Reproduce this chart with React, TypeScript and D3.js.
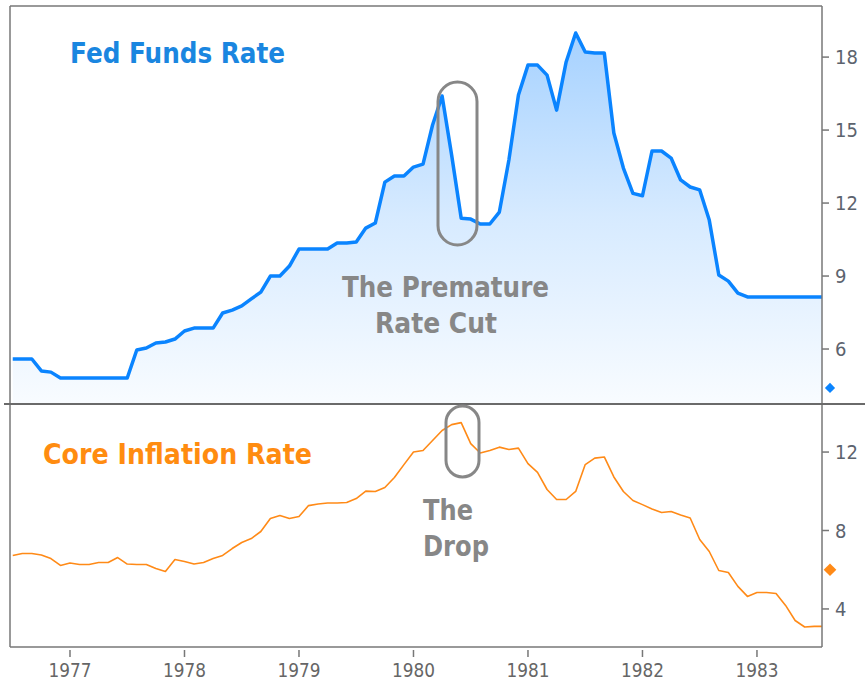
import React from "react";
import * as d3 from "d3";

// ---- data (monthly, starting July 1976) ----
const START_YEAR = 1976;
const START_MONTH = 7; // July

const fedFunds: number[] = [
  5.59, 5.59, 5.59, 5.10, 5.05, 4.81, // 1976 Jul-Dec
  4.81, 4.81, 4.81, 4.81, 4.81, 4.81, 4.81, 5.96, 6.04, 6.25, 6.29, 6.41, // 1977
  6.74, 6.86, 6.86, 6.86, 7.48, 7.60, 7.77, 8.06, 8.34, 9.00, 9.00, 9.41, // 1978
  10.11, 10.11, 10.11, 10.11, 10.36, 10.36, 10.40, 10.97, 11.18, 12.86, 13.11, 13.11, // 1979
  13.48, 13.60, 15.21, 16.40, 13.97, 11.38, 11.34, 11.14, 11.14, 11.63, 13.77, 16.44, // 1980
  17.67, 17.67, 17.26, 15.82, 17.80, 18.99, 18.21, 18.17, 18.17, 14.88, 13.44, 12.40, // 1981
  12.30, 14.14, 14.14, 13.85, 12.95, 12.66, 12.54, 11.30, 9.04, 8.79, 8.30, 8.14, // 1982
  8.14, 8.14, 8.14, 8.14, 8.14, 8.14, 8.14, 8.14, // 1983 Jan-Aug
];

const coreInflation: number[] = [
  6.73, 6.83, 6.83, 6.75, 6.57, 6.22, // 1976 Jul-Dec
  6.34, 6.27, 6.27, 6.37, 6.37, 6.62, 6.29, 6.27, 6.27, 6.06, 5.91, 6.52, // 1977
  6.42, 6.29, 6.37, 6.57, 6.73, 7.08, 7.39, 7.59, 7.95, 8.61, 8.76, 8.61, // 1978
  8.71, 9.27, 9.35, 9.40, 9.40, 9.43, 9.63, 10.01, 9.99, 10.19, 10.70, 11.36, // 1979
  12.00, 12.08, 12.59, 13.10, 13.40, 13.50, 12.43, 11.95, 12.08, 12.25, 12.13, 12.20, // 1980
  11.41, 10.96, 10.09, 9.58, 9.58, 9.99, 11.36, 11.69, 11.75, 10.73, 9.99, 9.53, // 1981
  9.32, 9.10, 8.92, 8.97, 8.79, 8.64, 7.54, 6.93, 5.96, 5.86, 5.15, 4.64, // 1982
  4.84, 4.84, 4.79, 4.18, 3.41, 3.08, 3.11, 3.11, // 1983 Jan-Aug
];

const yearTicks: number[] = [1977, 1978, 1979, 1980, 1981, 1982, 1983];
const fedTicks: number[] = [6, 9, 12, 15, 18];
const inflTicks: number[] = [4, 8, 12];

const fedTitle = "Fed Funds Rate";
const inflTitle = "Core Inflation Rate";
const fedNote = ["The Premature", "Rate Cut"];
const inflNote = ["The", "Drop"];
const fedMarker = 4.4;
const inflMarker = 6.0;

const BLUE = "#0a84ff";
const BLUE_TEXT = "#1a86e0";
const ORANGE = "#ff8a17";
const ORANGE_TEXT = "#ff8c10";
const GRAY = "#878787";
const FRAME = "#777";
const TICK_TEXT = "#5c636e";

const COND = "'DejaVu Sans Condensed', 'DejaVu Sans', sans-serif";
const BOLD = "'DejaVu Sans', Verdana, sans-serif";

export default function App() {
  const W = 865;
  const H = 685;
  const left = 10;
  const right = 822;
  const top1 = 6;
  const bot1 = 404;
  const bot2 = 647;

  const toYear = (i: number) => START_YEAR + (START_MONTH - 1 + i) / 12;

  const x = d3.scaleLinear().domain([1976.476, 1983.568]).range([left, right]);
  const yTop = d3.scaleLinear().domain([3.74, 20.1]).range([bot1, top1]);
  const yBot = d3.scaleLinear().domain([2.06, 14.45]).range([bot2, bot1]);

  const fedPts = fedFunds.map((v, i) => [toYear(i), v] as [number, number]);
  const inflPts = coreInflation.map((v, i) => [toYear(i), v] as [number, number]);

  const fedLine = d3.line<[number, number]>().x((d) => x(d[0])).y((d) => yTop(d[1]));
  const fedArea = d3
    .area<[number, number]>()
    .x((d) => x(d[0]))
    .y0(bot1)
    .y1((d) => yTop(d[1]));
  const inflLine = d3.line<[number, number]>().x((d) => x(d[0])).y((d) => yBot(d[1]));

  const diamondBlue = d3.symbol(d3.symbolSquare, 52)() as string;
  const diamondOrange = d3.symbol(d3.symbolSquare, 80)() as string;

  return (
    <svg
      width={W}
      height={H}
      style={{ position: "absolute", left: 0, top: 0, background: "#fff" }}
    >
      <defs>
        <clipPath id="clipTop">
          <rect x={left} y={top1} width={right - left} height={bot1 - top1} />
        </clipPath>
        <clipPath id="clipBot">
          <rect x={left} y={bot1} width={right - left} height={bot2 - bot1} />
        </clipPath>
        <linearGradient id="fedGrad" gradientUnits="userSpaceOnUse" x1="0" y1="30" x2="0" y2={bot1}>
          <stop offset="0" stopColor="#1e8cff" stopOpacity={0.4} />
          <stop offset="0.5" stopColor="#1e8cff" stopOpacity={0.18} />
          <stop offset="1" stopColor="#1e8cff" stopOpacity={0.03} />
        </linearGradient>
      </defs>

      {/* top panel series */}
      <g clipPath="url(#clipTop)">
        <path d={fedArea(fedPts) as string} fill="url(#fedGrad)" />
        <path
          d={fedLine(fedPts) as string}
          fill="none"
          stroke={BLUE}
          strokeWidth={3.5}
          strokeLinejoin="round"
        />
      </g>

      {/* bottom panel series */}
      <g clipPath="url(#clipBot)">
        <path
          d={inflLine(inflPts) as string}
          fill="none"
          stroke={ORANGE}
          strokeWidth={1.6}
          strokeLinejoin="round"
        />
      </g>

      {/* frame */}
      <line x1={left} x2={right} y1={top1} y2={top1} stroke={FRAME} strokeWidth={1.5} />
      <line x1={left} x2={left} y1={top1} y2={bot2} stroke={FRAME} strokeWidth={1.5} />
      <line x1={left} x2={right} y1={bot2} y2={bot2} stroke={FRAME} strokeWidth={1.5} />
      <line x1={right} x2={right} y1={top1} y2={bot2} stroke={FRAME} strokeWidth={1.5} />
      <line x1={4} x2={W} y1={bot1} y2={bot1} stroke="#6a6a6a" strokeWidth={2} />

      {/* right axis top */}
      {fedTicks.map((t) => (
        <g key={"f" + t} transform={`translate(${right},${yTop(t)})`}>
          <line x1={0} x2={7} stroke={FRAME} strokeWidth={1.5} />
          <text
            x={13}
            dy="0.35em"
            fontSize={20}
            fontFamily={COND}
            style={{ fontStretch: "condensed" }}
            fill={TICK_TEXT}
          >
            {t}
          </text>
        </g>
      ))}

      {/* right axis bottom */}
      {inflTicks.map((t) => (
        <g key={"i" + t} transform={`translate(${right},${yBot(t)})`}>
          <line x1={0} x2={7} stroke={FRAME} strokeWidth={1.5} />
          <text
            x={13}
            dy="0.35em"
            fontSize={20}
            fontFamily={COND}
            style={{ fontStretch: "condensed" }}
            fill={TICK_TEXT}
          >
            {t}
          </text>
        </g>
      ))}

      {/* markers */}
      <path d={diamondBlue} transform={`translate(830,${yTop(fedMarker)}) rotate(45)`} fill={BLUE} />
      <path d={diamondOrange} transform={`translate(830,${yBot(inflMarker)}) rotate(45)`} fill={ORANGE} />

      {/* x axis */}
      {yearTicks.map((t) => (
        <g key={"y" + t} transform={`translate(${x(t)},${bot2})`}>
          <line y1={3} y2={10} stroke={FRAME} strokeWidth={1.5} />
          <text
            y={30}
            textAnchor="middle"
            fontSize={20}
            fontFamily={COND}
            style={{ fontStretch: "condensed" }}
            fill="#666"
            textLength={43}
            lengthAdjust="spacingAndGlyphs"
          >
            {t}
          </text>
        </g>
      ))}

      {/* titles */}
      <text
        x={70}
        y={63}
        fontSize={28}
        fontWeight="bold"
        fontFamily={BOLD}
        fill={BLUE_TEXT}
        textLength={215}
        lengthAdjust="spacingAndGlyphs"
      >
        {fedTitle}
      </text>
      <text
        x={43}
        y={464}
        fontSize={28}
        fontWeight="bold"
        fontFamily={BOLD}
        fill={ORANGE_TEXT}
        textLength={269}
        lengthAdjust="spacingAndGlyphs"
      >
        {inflTitle}
      </text>

      {/* annotations */}
      <rect x={438} y={82} width={39} height={163} rx={19.5} fill="none" stroke={GRAY} strokeWidth={3} />
      <rect x={446} y={406} width={33} height={71} rx={16.5} fill="none" stroke={GRAY} strokeWidth={3} />
      <text x={342} y={297} fontSize={28} fontWeight="bold" fontFamily={BOLD} fill={GRAY} textLength={207} lengthAdjust="spacingAndGlyphs">
        {fedNote[0]}
      </text>
      <text x={375} y={333} fontSize={28} fontWeight="bold" fontFamily={BOLD} fill={GRAY} textLength={122} lengthAdjust="spacingAndGlyphs">
        {fedNote[1]}
      </text>
      <text x={423} y={520} fontSize={28} fontWeight="bold" fontFamily={BOLD} fill={GRAY} textLength={50} lengthAdjust="spacingAndGlyphs">
        {inflNote[0]}
      </text>
      <text x={423} y={556} fontSize={28} fontWeight="bold" fontFamily={BOLD} fill={GRAY} textLength={66} lengthAdjust="spacingAndGlyphs">
        {inflNote[1]}
      </text>
    </svg>
  );
}
